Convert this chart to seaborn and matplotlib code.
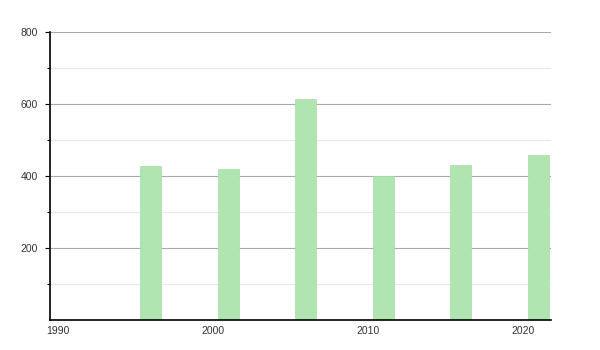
import matplotlib
matplotlib.use("Agg")
import matplotlib.pyplot as plt
import seaborn as sns
import pandas as pd
from matplotlib.ticker import MultipleLocator, FixedLocator

years = [1996, 2001, 2006, 2011, 2016, 2021]
values = [428, 419, 613, 401, 430, 458]
xticks = [1990, 2000, 2010, 2020]
yticks = [200, 400, 600, 800]

sns.set_style("white")
plt.rcParams['font.family'] = ['Liberation Sans', 'DejaVu Sans']

fig = plt.figure(figsize=(6, 3.5), dpi=100)
ax = fig.add_axes([50/600, 30/350, 501/600, 288/350])

df = pd.DataFrame({"year": years, "value": values})
sns.barplot(data=df, x="year", y="value", native_scale=True, width=0.27,
            color="#b0e4b0", saturation=1, edgecolor="#a6dfa6", linewidth=0.5, ax=ax)

ax.set_xlim(1989.5, 2021.83)
ax.set_ylim(0, 800)
ax.xaxis.set_major_locator(FixedLocator(xticks))
ax.set_xticklabels([str(t) for t in xticks])
ax.yaxis.set_major_locator(FixedLocator(yticks))
ax.yaxis.set_minor_locator(FixedLocator([100, 300, 500, 700]))
ax.set_yticklabels([str(t) for t in yticks])

ax.grid(axis="y", which="major", color="#aaaaaa", linewidth=0.8)
ax.grid(axis="y", which="minor", color="#e8e8e8", linewidth=0.8)
ax.grid(axis="x", visible=False)
ax.set_axisbelow(True)

for s in ["top", "right"]:
    ax.spines[s].set_visible(False)
for s in ["left", "bottom"]:
    ax.spines[s].set_color("black")
    ax.spines[s].set_linewidth(1.2)

ax.tick_params(axis="y", which="major", length=3.6, width=0.8, color="black",
               labelsize=7.5, labelcolor="#333333", pad=5, left=True)
ax.tick_params(axis="y", which="minor", length=2, width=0.8, color="black", left=True)
ax.tick_params(axis="x", length=0, labelsize=7.5, labelcolor="#333333", pad=4)

ax.set_xlabel("")
ax.set_ylabel("")

fig.savefig("out.png", dpi=100)
